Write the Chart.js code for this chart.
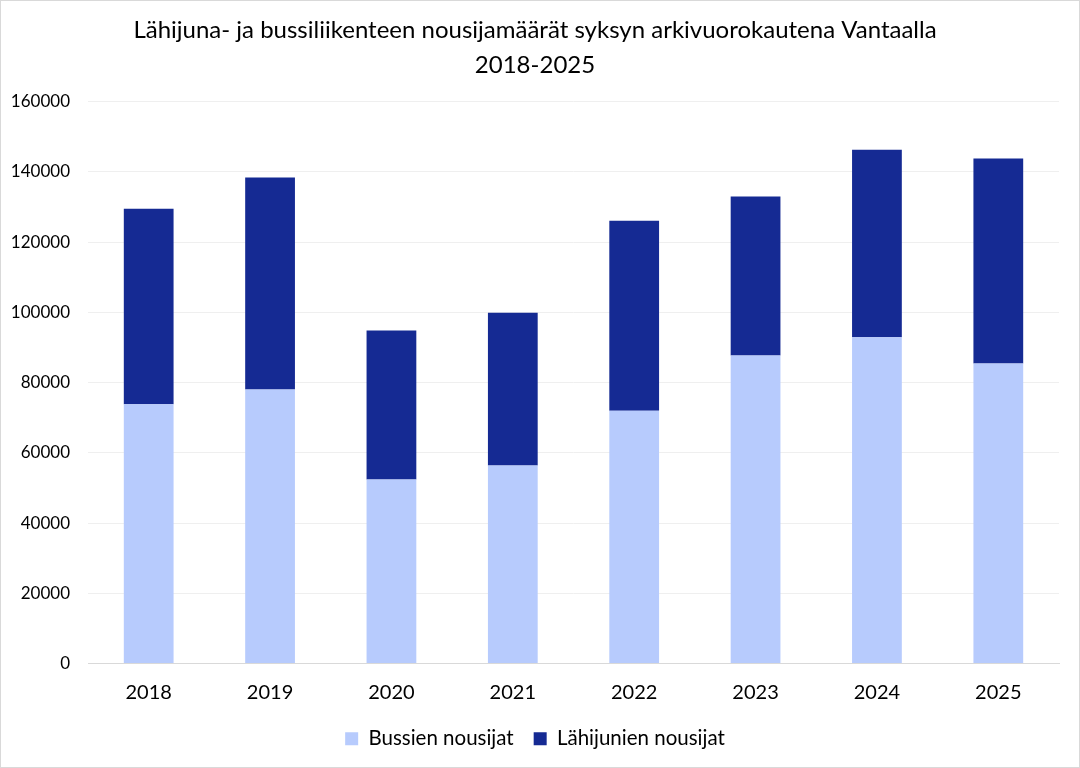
<!DOCTYPE html>
<html><head><meta charset="utf-8">
<script src="https://cdn.jsdelivr.net/npm/chart.js@4.4.1/dist/chart.umd.min.js"></script>
<style>
html,body{margin:0;padding:0;background:#fff;}
#wrap{position:absolute;left:0;top:0;width:1078px;height:766px;border:1px solid #d9d9d9;}
</style></head>
<body><div id="wrap"><canvas id="c" width="1078" height="766"></canvas></div>
<script>
const categories = ["2018","2019","2020","2021","2022","2023","2024","2025"];
const busValues = [73800, 78000, 52400, 56400, 72000, 87700, 92900, 85400];
const trainValues = [55700, 60400, 42400, 43500, 54100, 45300, 53400, 58400];
const seriesNames = ["Bussien nousijat","Lähijunien nousijat"];
const titleLines = ["Lähijuna- ja bussiliikenteen nousijamäärät syksyn arkivuorokautena Vantaalla","2018-2025"];
const FONT = "Lato, 'Open Sans', sans-serif";
new Chart(document.getElementById('c'), {
  type: 'bar',
  data: {
    labels: categories,
    datasets: [
      {label: seriesNames[0], data: busValues, backgroundColor: '#B7CBFD', barPercentage: 0.82, categoryPercentage: 0.5},
      {label: seriesNames[1], data: trainValues, backgroundColor: '#152A93', barPercentage: 0.82, categoryPercentage: 0.5}
    ]
  },
  options: {
    responsive: false, animation: false,
    layout: {padding: {left: 10, right: 20, top: 12, bottom: 8}},
    plugins: {
      title: {display: true, text: titleLines, color: '#000', font: {family: FONT, size: 24, weight: 'normal', lineHeight: 1.45}, padding: {top: 0, bottom: 19}},
      legend: {position: 'bottom', labels: {color: '#000', font: {family: FONT, size: 20.5}, boxWidth: 13, boxHeight: 13, padding: 20}},
      tooltip: {enabled: false}
    },
    scales: {
      x: {stacked: true, afterFit: a => { a.height -= 5; }, grid: {display: false}, border: {color: '#d9d9d9'}, ticks: {color: '#000', font: {family: FONT, size: 20}, padding: 9}},
      y: {stacked: true, min: 0, max: 160000, afterFit: a => { a.width = 77; }, ticks: {stepSize: 20000, color: '#000', font: {family: FONT, size: 17}, padding: 18, callback: v => String(v)}, grid: {color: '#efefef', drawTicks: false}, border: {display: false}}
    }
  }
});
</script></body></html>
